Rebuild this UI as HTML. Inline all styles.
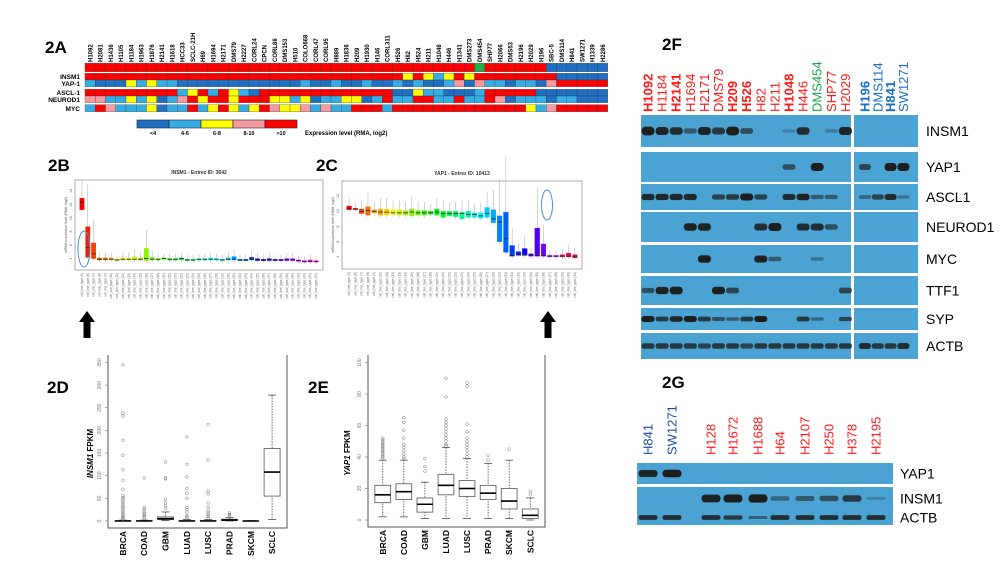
<!DOCTYPE html>
<html><head><meta charset="utf-8">
<style>
html,body{margin:0;padding:0;background:#fff;}
svg{display:block;font-family:"Liberation Sans",sans-serif;}
</style></head>
<body>
<svg id="fig" width="1000" height="563" viewBox="0 0 1000 563">
<g id="labels" font-weight="bold" font-size="17" fill="#000">
<text x="45" y="53">2A</text>
<text x="48" y="171">2B</text>
<text x="316" y="171">2C</text>
<text x="47" y="393">2D</text>
<text x="308" y="393">2E</text>
<text x="662" y="50">2F</text>
<text x="662" y="388">2G</text>
</g>
<g id="heat"></g>
<g id="pB"></g>
<g id="pC"></g>
<g id="pD"></g>
<g id="pE"></g>
<g id="pF"></g>
<g id="pG"></g>
</svg>
<script>
const NS="http://www.w3.org/2000/svg";
function mk(parent,tag,attrs,txt){const e=document.createElementNS(NS,tag);for(const k in attrs)e.setAttribute(k,attrs[k]);if(txt!==undefined)e.textContent=txt;parent.appendChild(e);return e;}

/* ---------- 2A heatmap data ---------- */
const heatCells=["H1092","H2081","H1436","H1105","H1184","H1963","H1876","H2141","H1618","HCC33","SCLC-21H","H69","H1694","H2171","DMS79","H2227","CORL24","CPCN","CORL88","DMS153","H510","COLO668","CORL47","CORL95","H889","H1836","H209","H1930","H146","CORL311","H526","H82","H524","H211","H1048","H446","H1341","DMS273","DMS454","SHP77","H2066","DMS53","H2196","H2029","H196","SBC-5","DMS114","H841","SW1271","H1339","H2286"];
const heatGroup="44444444444444444444444444444444444444g44444400000000";
const heatINSM1="444444444444444444444444444444424212424444444400000000";
const heatYAP1 ="10002121100000000000010010010010100130311011034444430";
const heatASCL1="44444444412414210444444444444400211000144444000000000";
const heatNEUROD1="33112120134244244422120112201411441141143011101100";
const heatMYC="14311120114124212432231311444144444444444442134444440";
const heatRowNames=["INSM1","YAP-1","ASCL-1","NEUROD1","MYC"];
const heatRows=[heatINSM1,heatYAP1,heatASCL1,heatNEUROD1,heatMYC];
const heatLegend=["<4","4-6","6-8","8-10",">10"];
const heatColors={"0":"#1f6fc2","1":"#35aee8","2":"#ffff00","3":"#f49aa0","4":"#ff0000","g":"#1fb04a"};

(function(){
 const g=document.getElementById('heat');
 const x0=85,cw=10.25,n=heatCells.length;
 heatCells.forEach((c,i)=>{
  const t=mk(g,'text',{x:0,y:0,transform:`translate(${x0+cw*i+cw/2+2.2},62) rotate(-90)`,'font-size':6,'font-weight':'bold'},c);
  
  
 });
 const rowsY=[[73.3,6.7],[80,6.7],[89.3,6.7],[96,6.7],[104.7,7]];
 for(let i=0;i<n;i++){
  const lv=heatGroup[i]||'0';
  const r=mk(g,'rect',{x:x0+cw*i,y:63.3,width:cw,height:8.4,fill:heatColors[lv],stroke:'#333','stroke-width':0.3});
  
  
 }
 heatRows.forEach((row,ri)=>{
  const [y,h]=rowsY[ri];
  for(let i=0;i<n;i++){
   const lv=row[i]||'0';
   const r=mk(g,'rect',{x:x0+cw*i,y:y,width:cw,height:h,fill:heatColors[lv],stroke:'#333','stroke-width':0.3});
   
   
  }
  const t=mk(g,'text',{x:80,y:y+h-0.8,'font-size':6.5,'font-weight':'bold','text-anchor':'end'},heatRowNames[ri]);
  
  
 });
 heatLegend.forEach((l,i)=>{
  const r=mk(g,'rect',{x:137+32*i,y:120,width:32,height:8,fill:heatColors[String(i)],stroke:'#222','stroke-width':0.6});
  
  
  const t=mk(g,'text',{x:153+32*i,y:135,'font-size':5.5,'font-weight':'bold','text-anchor':'middle'},l);
  
  
 });
 const t=mk(g,'text',{x:305,y:135,'font-size':6,'font-weight':'bold'},'Expression level  (RMA, log2)');
 
 
})();

/* ---------- 2B / 2C rainbow boxplots ---------- */
const medB=[12.1,5.4,4.5,3.7,3.7,3.7,3.6,3.7,3.7,3.7,3.7,3.8,3.7,3.7,3.8,3.7,3.7,3.8,3.6,3.6,3.7,3.7,3.7,3.7,3.6,3.7,3.7,3.6,3.6,3.7,3.6,3.6,3.7,3.6,3.6,3.6,3.6,3.5,3.4,3.4,3.4];
const q1B=[11,4,3.8,3.6,3.6,3.6,3.6,3.6,3.6,3.6,3.6,3.5,3.6,3.6,3.7,3.6,3.6,3.6,3.5,3.5,3.6,3.6,3.6,3.6,3.5,3.6,3.6,3.5,3.5,3.6,3.5,3.5,3.5,3.5,3.5,3.5,3.5,3.4,3.3,3.3,3.3];
const q3B=[12.7,8.5,6.1,3.9,3.9,3.9,3.7,3.9,3.9,4.1,3.9,5.3,4,3.8,3.9,3.8,3.8,3.9,3.7,3.7,3.8,3.8,3.9,3.8,3.7,3.9,4.1,3.7,3.7,4,3.8,3.7,3.8,3.7,3.7,3.8,3.8,3.6,3.5,3.6,3.5];
const medC=[10.2,10.1,9.8,9.9,9.8,9.7,9.7,9.6,9.6,9.6,9.7,9.6,9.6,9.6,9.7,9.5,9.5,9.5,9.5,9.4,9.4,9.2,9.5,8.8,8.4,6.2,4,4.1,4.1,4,4,4,3.9,3.9,3.9,3.9,3.8];
const q1C=[10,10,9.5,9.3,9.6,9.3,9.3,9.4,9.3,9.3,9.2,9.3,9.3,9.4,9.3,9.0,9.2,9.1,8.8,9,9,8.9,9,8.3,5.8,4.4,3.9,4,4,3.9,3.9,3.9,3.8,3.8,3.8,3.8,3.7];
const q3C=[10.5,10.2,10.1,10.4,10,10.1,10.1,10,10,9.9,10.1,9.9,9.9,9.8,10.1,9.8,9.8,9.8,9.7,9.8,9.6,9.6,10.3,10,9.2,9.7,5.3,4.5,4.9,4.2,7.6,5.5,4,4,4.1,4.3,4.1];

function rainbowBox(gid,title,left,right,top,bottom,ymin,ymax,ticks,med,q1,q3,colorFn){
 const g=document.getElementById(gid);
 const f=mk(g,'rect',{x:left,y:top,width:right-left,height:bottom-top,fill:'#fff',stroke:'#999','stroke-width':0.8});
 
 
 const tt=mk(g,'text',{x:(left+right)/2,y:top-6,'font-size':5,'font-weight':'bold','text-anchor':'middle',fill:'#333'},title);
 
 
 const ys=v=>bottom-6-(v-ymin)/(ymax-ymin)*(bottom-top-12);
 ticks.forEach(v=>{
  const t=mk(g,'text',{x:0,y:0,transform:`translate(${left-3},${ys(v)+1.5}) rotate(-90)`,'font-size':3.5,'text-anchor':'middle',fill:'#555'},String(v));
  
  
 });
 const yt=mk(g,'text',{x:0,y:0,transform:`translate(${left-8},${(top+bottom)/2}) rotate(-90)`,'font-size':3.5,'text-anchor':'middle',fill:'#555'},'mRNA expression level (RMA, log2)');
 
 
 const n=med.length,step=(right-left-8)/n;
 for(let i=0;i<n;i++){
  const cx=left+4+step*(i+0.5),col=colorFn(i/n);
  const wl=mk(g,'line',{x1:cx,x2:cx,y1:ys(q3[i]+(q3[i]-q1[i])*1.3+0.4),y2:ys(Math.max(ymin,q1[i]-0.3)),stroke:'#aaa','stroke-width':0.5});
  
  
  const b=mk(g,'rect',{x:cx-step*0.38,y:ys(q3[i]),width:step*0.76,height:Math.max(1.5,ys(q1[i])-ys(q3[i])),fill:col,stroke:col,'stroke-width':0.3});
  
  
  const m=mk(g,'line',{x1:cx-step*0.38,x2:cx+step*0.38,y1:ys(med[i]),y2:ys(med[i]),stroke:'#222','stroke-width':0.8});
  
  
  const lb=mk(g,'text',{x:0,y:0,transform:`translate(${cx+1},${bottom+3}) rotate(-90)`,'font-size':3.2,'text-anchor':'end',fill:'#666'},'cell_line_type ('+(i+5)+')');
  
  
 }
}
const rainbow=t=>`hsl(${Math.round(t*320)},100%,48%)`;
rainbowBox('pB','INSM1  -  Entrez ID: 3642',75,323,180,270,3,14.5,[4,6,8,10,12,14],medB,q1B,q3B,rainbow);
rainbowBox('pC','YAP1  -  Entrez ID: 10413',342,582,181,269,3,13,[4,6,8,10,12],medC,q1C,q3C,t=>t>0.9?`hsl(${330+ (t-0.9)*200},90%,45%)`:rainbow(t));
(function(){
 const g=document.getElementById('pB');
 const e=mk(g,'ellipse',{cx:84,cy:249,rx:6,ry:18,fill:'none',stroke:'#4a8fd6','stroke-width':1});
 
 const g2=document.getElementById('pC');
 const e2=mk(g2,'ellipse',{cx:547,cy:205,rx:5.5,ry:15,fill:'none',stroke:'#4a8fd6','stroke-width':1});
 
 [[87,'pB'],[548,'pC']].forEach(([x,id])=>{
  const a=mk(document.getElementById(id),'path',{d:`M${x-3.5},338 L${x+3.5},338 L${x+3.5},322 L${x+8},322 L${x},311 L${x-8},322 L${x-3.5},322 Z`,fill:'#000'});
  
 });
})();

/* ---------- 2D / 2E TCGA boxplots ---------- */
const tcgaCats=["BRCA","COAD","GBM","LUAD","LUSC","PRAD","SKCM","SCLC"];
const dMed=[0,0,5,0,0,2,0,108];
const dQ1=[0,0,3,0,0,1,0,55];
const dQ3=[1,1,9,1,1,4,0.5,160];
const dLo=[0,0,1,0,0,0,0,3];
const dHi=[2,2,20,3,3,8,1,278];
const dOut=[[4,6,8,10,13,16,20,24,28,32,36,40,44,48,52,56,70,90,113,145,178,232,238,345],[6,9,12,15,18,22,26,30,95],[28,34,40,48,93,95,130],[6,9,12,20,25,30,50,62,72,97,125,186],[6,10,14,18,22,30,40,60,66,135,213],[9,11,14,18],[],[]];
const eMed=[16,18,10,22,20,17,12,3];
const eQ1=[11,13,5,16,15,13,7,1];
const eQ3=[22,23,14,29,25,22,20,7];
const eLo=[2,2,1,1,1,1,1,0];
const eHi=[38,38,24,46,39,36,38,14];
const eOut=[[39,40,41,42,43,44,45,46,47,48,49,50,51,52],[39,40,42,44,46,48,52,57,62,65],[31,34,39],[47,48,50,52,54,56,58,60,62,64,78,90],[40,42,44,46,48,50,52,56,61,85,87],[38,41],[45],[16,18]];
const dTicks=[0,50,100,150,200,250,300,350];
const eTicks=[0,20,40,60,80,100];

function tcgaPlot(gid,left,right,top,bottom,zeroY,pxPer,ticks,med,q1,q3,lo,hi,out,ytitleItalic,ytitleX){
 const g=document.getElementById(gid);
 const ax=mk(g,'path',{d:`M${left},${top} L${left},${bottom} L${right},${bottom} L${right},${top}`,fill:'none',stroke:'#555','stroke-width':1});
 
 const ys=v=>zeroY-v*pxPer;
 ticks.forEach(v=>{
  const tk=mk(g,'line',{x1:left-3,x2:left,y1:ys(v),y2:ys(v),stroke:'#777','stroke-width':0.6});
  
  const t=mk(g,'text',{x:0,y:0,transform:`translate(${left-7},${ys(v)}) rotate(-90)`,'font-size':5,'text-anchor':'middle',fill:'#777'},String(v));
  
 });
 const yt=mk(g,'text',{x:0,y:0,transform:`translate(${ytitleX},${(top+bottom)/2+12}) rotate(-90)`,'font-size':8,'font-weight':'bold','text-anchor':'middle'});
 
 mk(yt,'tspan',{'font-style':'italic'},ytitleItalic);
 mk(yt,'tspan',{},' FPKM');
 const n=tcgaCats.length,step=(right-left)/(n+0.4);
 tcgaCats.forEach((c,i)=>{
  const cx=left+step*(i+0.7),bw=step*0.75;
  const w=mk(g,'line',{x1:cx,x2:cx,y1:ys(hi[i]),y2:ys(lo[i]),stroke:'#333','stroke-width':0.7,'stroke-dasharray':'1.5,1.2'});
  
  [hi[i],lo[i]].forEach(v=>{const c2=mk(g,'line',{x1:cx-bw*0.25,x2:cx+bw*0.25,y1:ys(v),y2:ys(v),stroke:'#333','stroke-width':0.7});});
  const b=mk(g,'rect',{x:cx-bw/2,y:ys(q3[i]),width:bw,height:Math.max(0.5,ys(q1[i])-ys(q3[i])),fill:'#fff',stroke:'#555','stroke-width':0.8});
  
  const m=mk(g,'line',{x1:cx-bw/2,x2:cx+bw/2,y1:ys(med[i]),y2:ys(med[i]),stroke:'#000','stroke-width':1.6});
  
  out[i].forEach(v=>{const o=mk(g,'circle',{cx:cx,cy:ys(v),r:1.4,fill:'none',stroke:'#777','stroke-width':0.5});});
  const t=mk(g,'text',{x:0,y:0,transform:`translate(${cx+3},${bottom+3}) rotate(-90)`,'font-size':8.5,'font-weight':'bold','text-anchor':'end'},c);
  
 });
}
tcgaPlot('pD',108,287,355,528,521,0.453,dTicks,dMed,dQ1,dQ3,dLo,dHi,dOut,'INSM1',93);
tcgaPlot('pE',368,545,355,527,520,1.575,eTicks,eMed,eQ1,eQ3,eLo,eHi,eOut,'YAP1',350);

/* ---------- 2F western blot ---------- */
const fCols=["H1092","H1184","H2141","H1694","H2171","DMS79","H209","H526","H82","H211","H1048","H446","DMS454","SHP77","H2029"];
const fColColor=["r","r","r","r","r","r","r","r","r","r","r","r","g","r","r"];
const fColBold=[1,0,1,0,0,0,1,1,0,0,1,0,0,0,0];
const fCols2=["H196","DMS114","H841","SW1271"];
const fCols2Bold=[1,0,1,0];
const fProteins=["INSM1","YAP1","ASCL1","NEUROD1","MYC","TTF1","SYP","ACTB"];
const fLeft=[
 [1,0.9,0.8,0.4,0.9,0.7,1,0.5,0,0,0.05,0.8,0,0.1,0.9],
 [0,0,0,0,0,0,0,0,0,0,0.5,0,1,0,0],
 [0.85,0.85,0.85,0.85,0,0.6,0.7,1,0.6,0,0.8,0.9,0.4,0.4,0],
 [0,0,0,0.9,0.9,0,0,0,0.8,1,0,0.8,0.8,0.5,0],
 [0,0,0,0,1,0,0,0,0.9,0.4,0,0,0.2,0,0],
 [0.5,0.9,1,0,0,0.95,0.6,0,0,0,0,0,0,0,0.6],
 [1,0.7,0.9,1,0.7,0.5,0.4,0.7,1,0,0,0.7,0.3,0,0.6],
 [0.7,0.7,0.7,0.7,0.6,0.7,0.7,0.6,0.7,0.7,0.7,0.7,0.7,0.7,0.7]];
const fRight=[[0,0,0,0],[0.6,0,1,1],[0.3,0.6,0.8,0.2],[0,0,0,0],[0,0,0,0],[0,0,0,0],[0,0,0,0],[0.8,0.7,0.7,0.8]];
const fRowY=[[115,32],[152,30],[184,26],[212,30],[245,28],[276,29],[308,22],[333,26]];

const blotBg="#4ba3d3";
function band(g,cx,cy,w,h,v){
 if(v<=0.02)return;
 const hh=h*(0.3+0.6*v);
 const b=mk(g,'rect',{x:cx-w/2,y:cy-hh/2,width:w,height:hh,rx:hh*0.45,fill:'#1a1814','fill-opacity':Math.min(0.95,0.2+0.8*v)});
 
}
(function(){
 const g=document.getElementById('pF');
 const colX=i=>648+14.1*i, colX2=i=>865+12.8*i;
 fCols.forEach((c,i)=>{
  const t=mk(g,'text',{x:0,y:0,transform:`translate(${colX(i)+4.5},112) rotate(-90)`,'font-size':13,'font-weight':fColBold[i]?'bold':'normal',fill:fColColor[i]==='g'?'#1aa64a':'#ff1a1a'},c);
  
 });
 fCols2.forEach((c,i)=>{
  const t=mk(g,'text',{x:0,y:0,transform:`translate(${colX2(i)+4.5},112) rotate(-90)`,'font-size':13,'font-weight':fCols2Bold[i]?'bold':'normal',fill:'#1a6fc4'},c);
  
 });
 fProteins.forEach((p,ri)=>{
  const [y,h]=fRowY[ri];
  const r1=mk(g,'rect',{x:641,y:y,width:210,height:h,fill:blotBg});
  
  const r2=mk(g,'rect',{x:854,y:y,width:64,height:h,fill:blotBg});
  
  fLeft[ri].forEach((v,i)=>band(g,colX(i),y+h/2,13,h*0.3,v));
  fRight[ri].forEach((v,i)=>band(g,colX2(i),y+h/2,12,h*0.3,v));
  const t=mk(g,'text',{x:926,y:y+h/2+5,'font-size':14},p);
  
 });
})();

/* ---------- 2G western blot ---------- */
const gCols=["H841","SW1271","H128","H1672","H1688","H64","H2107","H250","H378","H2195"];
const gColBlue=[1,1,0,0,0,0,0,0,0,0];
const gProteins=["YAP1","INSM1","ACTB"];
const gVals=[[0.9,1,0,0,0,0,0,0,0,0],[0,0,0.9,0.95,1,0.3,0.4,0.5,0.7,0.05],[0.8,0.8,0.8,0.7,0.35,0.8,0.8,0.8,0.8,0.8]];
const gRowY=[[463,21],[487,23],[510,15]];
(function(){
 const g=document.getElementById('pG');
 const xs=[648,672,711,733,758,780,805,829,852,876];
 gCols.forEach((c,i)=>{
  const t=mk(g,'text',{x:0,y:0,transform:`translate(${xs[i]+4.5},455) rotate(-90)`,'font-size':13,fill:gColBlue[i]?'#1f4fa0':'#ff1a1a'},c);
  
 });
 gProteins.forEach((p,ri)=>{
  const [y,h]=gRowY[ri];
  const r=mk(g,'rect',{x:637,y:y,width:256,height:h,fill:blotBg});
  
  gVals[ri].forEach((v,i)=>band(g,xs[i],y+h/2,19,h*0.4,v));
  const t=mk(g,'text',{x:900,y:y+h/2+5,'font-size':14},p);
  
 });
})();
</script>
</body></html>
